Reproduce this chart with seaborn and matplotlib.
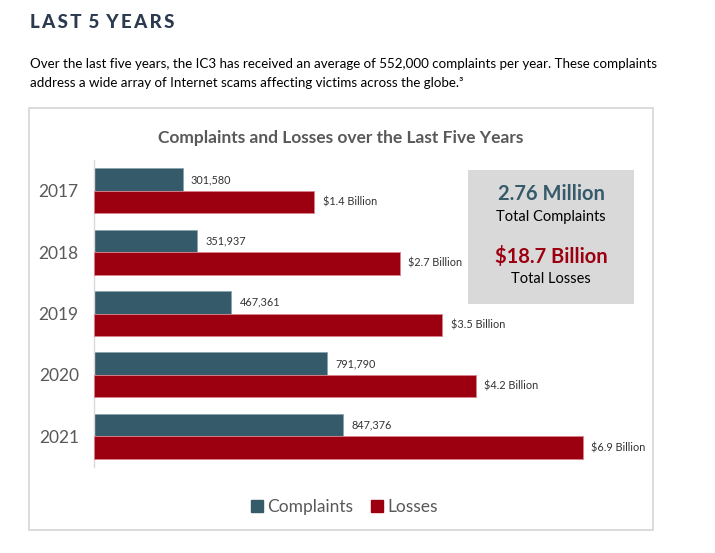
import numpy as np
import pandas as pd
import matplotlib
matplotlib.use("Agg")
import matplotlib.pyplot as plt
from matplotlib.patches import Rectangle
from matplotlib.lines import Line2D
import seaborn as sns

years = ["2017", "2018", "2019", "2020", "2021"]
complaints = [301580, 351937, 467361, 791790, 847376]
losses_billion = [1.4, 2.7, 3.5, 4.2, 6.9]
series_names = ["Complaints", "Losses"]
total_complaints = "2.76 Million"
total_losses = "$18.7 Billion"

C_COMP = "#355a6a"
C_LOSS = "#9c0010"
GRAY_TXT = "#595959"

sns.set_theme(style="white")
plt.rcParams["font.family"] = ["Lato", "DejaVu Sans"]

df_c = pd.DataFrame({"year": years, "series": "Complaints", "value": complaints})
df_l = pd.DataFrame({"year": years, "series": "Losses", "value": losses_billion})

W, H = 715, 553
fig = plt.figure(figsize=(W / 100, H / 100), dpi=100)

def fx(px):
    return px / W

def fy(py):
    return 1 - py / H

# outer frame of chart
fig.patches.append(Rectangle((fx(29), fy(530)), fx(653) - fx(29), fy(108) - fy(530),
                             transform=fig.transFigure, facecolor="none",
                             edgecolor="#d9d9d9", lw=1.3, zorder=-1))

ax_left, ax_right, ax_top, ax_bot = 94, 650, 160, 467
ax = fig.add_axes([fx(ax_left), fy(ax_bot), fx(ax_right) - fx(ax_left), fy(ax_top) - fy(ax_bot)])
ax.patch.set_alpha(0)
ax2 = ax.twiny()
ax2.patch.set_visible(False)

pal = {"Complaints": C_COMP, "Losses": C_LOSS}
sns.barplot(data=df_c, y="year", x="value", hue="series", hue_order=series_names,
            palette=pal, orient="h", width=0.73, gap=0, dodge=True, ax=ax, legend=False,
            edgecolor="#8aa3ae", linewidth=0.6, saturation=1, errorbar=None)
sns.barplot(data=df_l, y="year", x="value", hue="series", hue_order=series_names,
            palette=pal, orient="h", width=0.73, gap=0, dodge=True, ax=ax2, legend=False,
            edgecolor="#d9838b", linewidth=0.6, saturation=1, errorbar=None)

ax.set_xlim(0, 1.892e6)
ax2.set_xscale("function", functions=(lambda x: np.sqrt(np.clip(x, 0, None)),
                                      lambda x: np.square(x)))
ax2.set_xlim(0, 8.92)
ax.set_ylim(4.5, -0.5)

for a in (ax, ax2):
    a.set_xlabel("")
    a.set_ylabel("")
    a.set_xticks([])
    for s in a.spines.values():
        s.set_visible(False)
ax.spines["left"].set_visible(True)
ax.spines["left"].set_color("#d9d9d9")
ax.spines["left"].set_linewidth(1.0)
ax.tick_params(axis="y", length=0, pad=11, labelsize=12.5, labelcolor=GRAY_TXT)
ax2.tick_params(axis="y", length=0)


def valid(cont):
    return len(cont) > 0 and all(p is not None for p in cont)


for cont in [c for c in ax.containers if valid(c)]:
    ax.bar_label(cont, labels=[f"{v:,}" for v in complaints], padding=6,
                 fontsize=7.8, color="#333333")
for cont in [c for c in ax2.containers if valid(c)]:
    ax2.bar_label(cont, labels=[f"${v:.1f} Billion" for v in losses_billion], padding=6,
                  fontsize=7.8, color="#333333")

# stats box
fig.patches.append(Rectangle((fx(468), fy(304)), fx(634) - fx(468), fy(170) - fy(304),
                             transform=fig.transFigure, facecolor="#d9d9d9",
                             edgecolor="none", zorder=5))
fig.text(fx(551), fy(194), total_complaints, ha="center", va="center", fontsize=14.5,
         fontweight="bold", color=C_COMP, zorder=6)
fig.text(fx(551), fy(217), "Total Complaints", ha="center", va="center", fontsize=10.5,
         color="black", zorder=6)
fig.text(fx(551), fy(257), total_losses, ha="center", va="center", fontsize=14.5,
         fontweight="bold", color=C_LOSS, zorder=6)
fig.text(fx(551), fy(279), "Total Losses", ha="center", va="center", fontsize=10.5,
         color="black", zorder=6)

# chart title
fig.text(fx(341), fy(138), "Complaints and Losses over the Last Five Years", ha="center",
         va="center", fontsize=12.5, fontweight="bold", color=GRAY_TXT)

# legend
handles = [Line2D([], [], marker="s", linestyle="none", markersize=9, color=c)
           for c in (C_COMP, C_LOSS)]
fig.legend(handles, series_names, loc="center", bbox_to_anchor=(fx(344), fy(507)),
           ncol=2, frameon=False, fontsize=12.5, labelcolor=GRAY_TXT,
           handletextpad=0.2, columnspacing=1.0, handlelength=0.8)

# page heading and paragraph
fig.text(fx(30), fy(22), "L\u2009A\u2009S\u2009T\u2009 5\u2009 Y\u2009E\u2009A\u2009R\u2009S",
         ha="left", va="center", fontsize=13.5, fontweight="black", color="#2b3a4f")
fig.text(fx(30), fy(64), "Over the last five years, the IC3 has received an average of 552,000 "
         "complaints per year. These complaints", ha="left", va="center", fontsize=9.6,
         color="black")
fig.text(fx(30), fy(83), "address a wide array of Internet scams affecting victims across the globe.\u00b3",
         ha="left", va="center", fontsize=9.6, color="black")

fig.savefig("out.png", dpi=100)
